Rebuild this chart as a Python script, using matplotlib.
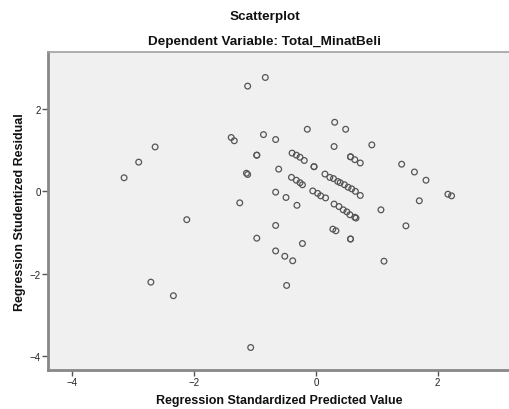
import matplotlib
matplotlib.use("Agg")
import matplotlib.pyplot as plt

plt.rcParams['font.family'] = ['Liberation Sans', 'DejaVu Sans']

title = "Scatterplot"
subtitle = "Dependent Variable: Total_MinatBeli"
xlabel = "Regression Standardized Predicted Value"
ylabel = "Regression Studentized Residual"
xticks = [-4, -2, 0, 2]
yticks = [-4, -2, 0, 2]

pred = [-3.15, -2.91, -2.64, -2.12, -2.71, -2.34, -1.12, -0.83, -1.39, -1.34,
        -0.86, -0.66, -0.97, -0.97, -1.14, -1.12, -0.61, -1.25, -0.66, -0.49,
        -0.31, -0.66, -0.97, -0.22, -0.66, -0.51, -0.38, -0.48, -1.07, -0.14,
        0.31, 0.49, 0.30, 0.92, 0.57, 0.57, 0.64, 0.73, 1.41, 1.62,
        1.81, 2.17, 2.23, 1.70, 1.07, 1.48, 1.12, -0.39, -0.32, -0.26,
        -0.19, -0.03, -0.03, -0.40, -0.32, -0.26, -0.22, -0.05, 0.03, 0.08,
        0.16, 0.15, 0.23, 0.29, 0.36, 0.40, 0.47, 0.53, 0.59, 0.65,
        0.73, 0.30, 0.38, 0.45, 0.51, 0.56, 0.64, 0.66, 0.28, 0.33,
        0.57, 0.57]
resid = [0.33, 0.71, 1.08, -0.69, -2.21, -2.54, 2.56, 2.77, 1.31, 1.23,
         1.38, 1.26, 0.88, 0.88, 0.44, 0.41, 0.54, -0.28, -0.02, -0.15,
         -0.34, -0.83, -1.14, -1.27, -1.45, -1.58, -1.69, -2.29, -3.80, 1.51,
         1.68, 1.51, 1.09, 1.13, 0.84, 0.84, 0.77, 0.69, 0.66, 0.47,
         0.27, -0.07, -0.11, -0.23, -0.45, -0.84, -1.70, 0.93, 0.88, 0.83,
         0.75, 0.60, 0.60, 0.34, 0.27, 0.21, 0.16, 0.01, -0.05, -0.11,
         -0.16, 0.42, 0.34, 0.31, 0.24, 0.21, 0.16, 0.10, 0.06, 0.00,
         -0.10, -0.31, -0.37, -0.45, -0.50, -0.57, -0.63, -0.65, -0.92, -0.96,
         -1.16, -1.16]

fig = plt.figure(figsize=(5.1, 4.1), dpi=100)
ax = fig.add_axes([48/510, (410-370.7)/410, (510-48)/510, (370.7-53)/410])
ax.set_facecolor('#f0f0f0')
ax.scatter(pred, resid, s=17, facecolors='none', edgecolors='#555555', linewidths=0.9, zorder=3)
ax.set_xlim(-4.40, 3.19)
ax.set_ylim(-4.34, 3.39)
ax.set_xticks(xticks)
ax.set_yticks(yticks)
ax.tick_params(axis='both', direction='out', length=4, width=1.0, color='#555555',
               labelsize=7, pad=1, labelcolor='#222222')
for side in ['left', 'bottom']:
    ax.spines[side].set_color('#888888')
    ax.spines[side].set_linewidth(2.0)
for side in ['top', 'right']:
    ax.spines[side].set_color('#a0a0a0')
    ax.spines[side].set_linewidth(1.2)

fig.text(265/510, 1 - 17/410, title, ha='center', va='center', fontsize=9.7, fontweight='bold', color='#111111')
fig.text(264/510, 1 - 42/410, subtitle, ha='center', va='center', fontsize=9.7, fontweight='bold', color='#111111')
ax.set_xlabel(xlabel, fontsize=9, fontweight='bold', labelpad=5, color='#111111')
ax.set_ylabel(ylabel, fontsize=9, fontweight='bold', labelpad=3, color='#111111')

fig.savefig('out.png', dpi=100, facecolor='white')
